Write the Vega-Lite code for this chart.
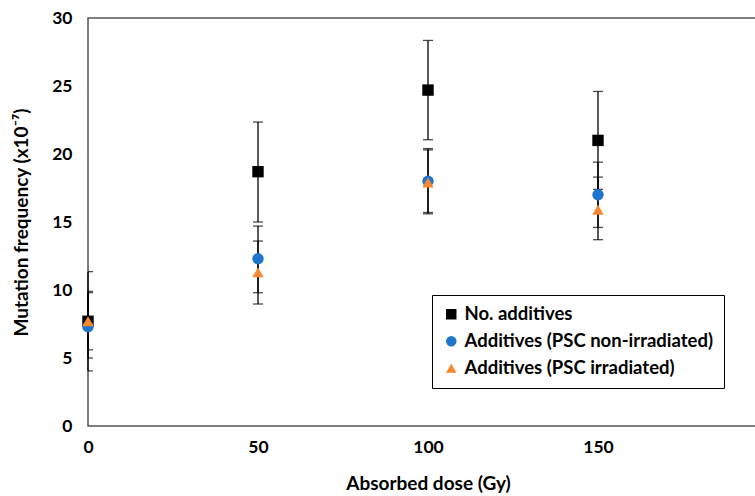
{
  "$schema": "https://vega.github.io/schema/vega-lite/v6.json",
  "width": 680,
  "height": 408,
  "autosize": {"type": "none"},
  "padding": {"left": 88, "top": 18, "right": 0, "bottom": 70},
  "background": "white",
  "config": {
    "view": {"stroke": "#555555", "strokeWidth": 1.5},
    "font": "Lato",
    "axis": {
      "domain": false, "ticks": false, "grid": false,
      "labelFont": "Lato", "labelFontWeight": "bold", "labelFontSize": 17.5, "labelColor": "#000000",
      "titleFont": "Lato", "titleFontWeight": "bold", "titleFontSize": 19, "titleColor": "#000000"
    }
  },
  "data": {
    "values": [
      {"dose": 0, "series": "No. additives", "mean": 7.7, "lo": 4.05, "hi": 11.35},
      {"dose": 50, "series": "No. additives", "mean": 18.7, "lo": 15.0, "hi": 22.35},
      {"dose": 100, "series": "No. additives", "mean": 24.7, "lo": 21.05, "hi": 28.35},
      {"dose": 150, "series": "No. additives", "mean": 21.0, "lo": 17.4, "hi": 24.6},
      {"dose": 0, "series": "Additives (PSC non-irradiated)", "mean": 7.3, "lo": 5.0, "hi": 9.9},
      {"dose": 50, "series": "Additives (PSC non-irradiated)", "mean": 12.3, "lo": 9.8, "hi": 14.7},
      {"dose": 100, "series": "Additives (PSC non-irradiated)", "mean": 18.0, "lo": 15.6, "hi": 20.4},
      {"dose": 150, "series": "Additives (PSC non-irradiated)", "mean": 17.0, "lo": 14.6, "hi": 19.4},
      {"dose": 0, "series": "Additives (PSC irradiated)", "mean": 7.7, "lo": 5.6, "hi": 9.8},
      {"dose": 50, "series": "Additives (PSC irradiated)", "mean": 11.3, "lo": 8.97, "hi": 13.6},
      {"dose": 100, "series": "Additives (PSC irradiated)", "mean": 17.9, "lo": 15.7, "hi": 20.3},
      {"dose": 150, "series": "Additives (PSC irradiated)", "mean": 15.9, "lo": 13.7, "hi": 18.3}
    ]
  },
  "layer": [
    {
      "mark": {"type": "rule", "color": "#000000", "strokeWidth": 1.3},
      "encoding": {
        "x": {"field": "dose", "type": "quantitative", "scale": {"domain": [0, 200], "nice": false}},
        "y": {"field": "lo", "type": "quantitative"},
        "y2": {"field": "hi"}
      }
    },
    {
      "mark": {"type": "tick", "orient": "horizontal", "color": "#000000", "thickness": 1.3, "size": 10, "clip": true},
      "encoding": {
        "x": {"field": "dose", "type": "quantitative"},
        "y": {"field": "lo", "type": "quantitative"}
      }
    },
    {
      "mark": {"type": "tick", "orient": "horizontal", "color": "#000000", "thickness": 1.3, "size": 10, "clip": true},
      "encoding": {
        "x": {"field": "dose", "type": "quantitative"},
        "y": {"field": "hi", "type": "quantitative"}
      }
    },
    {
      "mark": {"type": "point", "filled": true, "opacity": 1, "size": 130},
      "encoding": {
        "x": {
          "field": "dose", "type": "quantitative",
          "scale": {"domain": [0, 200], "nice": false},
          "axis": {"values": [0, 50, 100, 150], "title": "Absorbed dose (Gy)", "labelPadding": 12, "titlePadding": 19, "labelFlush": false}
        },
        "y": {
          "field": "mean", "type": "quantitative",
          "scale": {"domain": [0, 30], "nice": false},
          "axis": {"values": [0, 5, 10, 15, 20, 25, 30], "title": "Mutation frequency (x10⁻⁷)", "labelPadding": 16, "titlePadding": 20}
        },
        "color": {
          "field": "series", "type": "nominal",
          "scale": {
            "domain": ["No. additives", "Additives (PSC non-irradiated)", "Additives (PSC irradiated)"],
            "range": ["#000000", "#1F74CC", "#F7882F"]
          },
          "legend": {
            "title": null, "orient": "none", "legendX": 344, "legendY": 277,
            "strokeColor": "#000000", "fillColor": "#ffffff", "padding": 10,
            "labelFont": "Lato", "labelFontWeight": "bold", "labelFontSize": 18.5, "labelColor": "#000000",
            "labelLimit": 0,
            "rowPadding": 8, "symbolSize": 110, "symbolOpacity": 1, "labelOffset": 4
          }
        },
        "shape": {
          "field": "series", "type": "nominal",
          "scale": {
            "domain": ["No. additives", "Additives (PSC non-irradiated)", "Additives (PSC irradiated)"],
            "range": ["square", "circle", "triangle-up"]
          }
        }
      }
    }
  ]
}
